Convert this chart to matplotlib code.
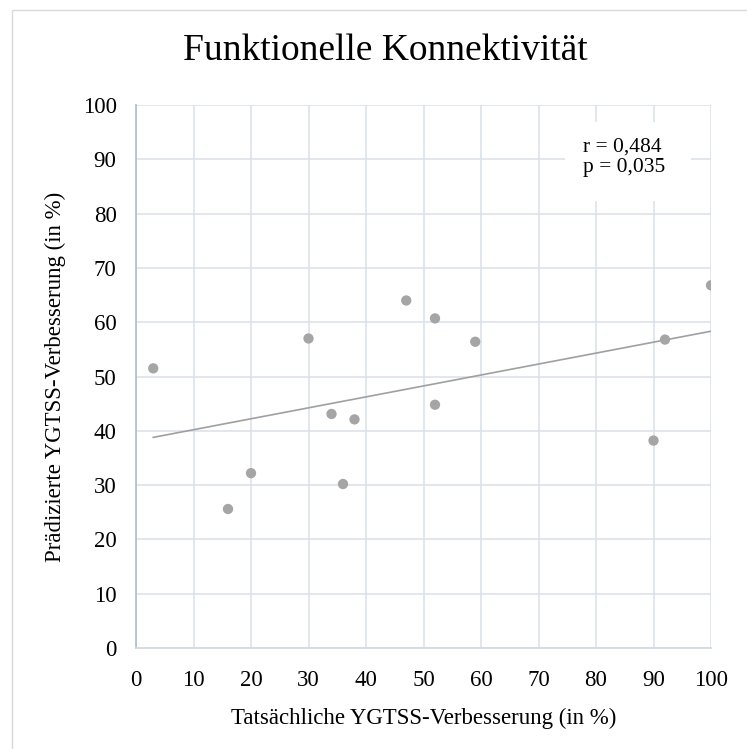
import numpy as np
import matplotlib
matplotlib.use('Agg')
import matplotlib.pyplot as plt
from matplotlib.patches import Rectangle

plt.rcParams['font.family'] = ['Liberation Serif', 'DejaVu Serif']

# Data
actual = [3, 16, 20, 30, 34, 36, 38, 47, 52, 52, 59, 90, 92, 100]
predicted = [51.5, 25.6, 32.2, 57.0, 43.1, 30.2, 42.1, 64.0, 60.7, 44.8, 56.4, 38.2, 56.8, 66.8]
ticks = list(range(0, 101, 10))
stats_text = 'r = 0,484\np = 0,035'

W, H = 747, 749
fig = plt.figure(figsize=(W / 100, H / 100), dpi=100)

# chart area border
fig.patches.append(Rectangle((11.5 / W, -0.1), 1.2, 1.1 - 10.5 / H, transform=fig.transFigure,
                             fill=False, edgecolor='#d9d9d9', linewidth=1.0))

ax = fig.add_axes([136 / W, 1 - 648 / H, (711 - 136) / W, (648 - 105) / H])

ax.set_xlim(0, 100)
ax.set_ylim(0, 100)
ax.set_xticks(ticks)
ax.set_yticks(ticks)
ax.grid(True, color='#dde1ea', linewidth=1.2)
ax.set_axisbelow(True)
ax.tick_params(length=0, labelsize=16.5, colors='black')
ax.tick_params(axis='y', pad=14)
ax.tick_params(axis='x', pad=16)
for s in ['top', 'right']:
    ax.spines[s].set_visible(False)
ax.spines['left'].set_color('#b4c0d2')
ax.spines['left'].set_linewidth(1.3)
ax.spines['bottom'].set_color('#d4d9e2')
ax.spines['bottom'].set_linewidth(1.3)

# trend line
k, d = np.polyfit(actual, predicted, 1)
xs = np.array([min(actual), max(actual)])
ax.plot(xs, k * xs + d, color='#a0a0a0', linewidth=1.2, zorder=2)

ax.scatter(actual, predicted, s=55, color='#a5a5a5', edgecolors='none', zorder=3)

# stats box
ax.add_patch(Rectangle(((565 - 136) / 575, (648 - 201) / 543), 126 / 575, 79 / 543,
                       transform=ax.transAxes, facecolor='white', edgecolor='none', zorder=2.5))
ax.text((583 - 136) / 575, (648 - 157) / 543, stats_text, transform=ax.transAxes,
        fontsize=15.5, va='center', ha='left', linespacing=1.1, zorder=4)

ax.set_xlabel('Tatsächliche YGTSS-Verbesserung (in %)', fontsize=16.5, labelpad=12)
ax.set_ylabel('Prädizierte YGTSS-Verbesserung (in %)', fontsize=16.5, labelpad=12)

fig.text(385 / W, 1 - 51 / H, 'Funktionelle Konnektivität', fontsize=27,
         ha='center', va='center')

fig.savefig('out.png', dpi=100)
